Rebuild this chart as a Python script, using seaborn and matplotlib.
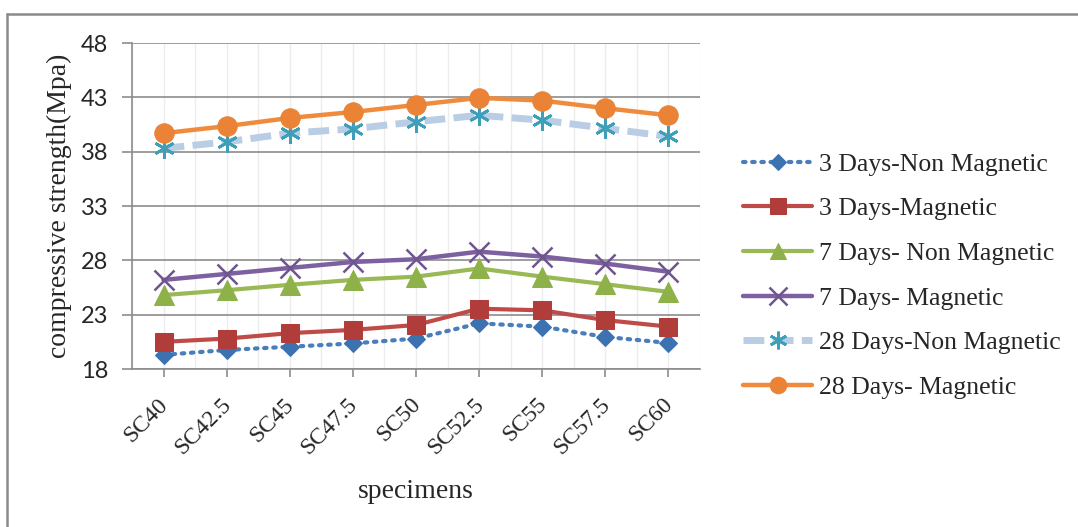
import matplotlib
matplotlib.use("Agg")
import matplotlib.pyplot as plt
import matplotlib.transforms as mtransforms
import seaborn as sns
from matplotlib.lines import Line2D
from matplotlib.ticker import MultipleLocator

specimens = ["SC40", "SC42.5", "SC45", "SC47.5", "SC50", "SC52.5", "SC55", "SC57.5", "SC60"]
d3_non_magnetic = [19.3, 19.75, 20.05, 20.35, 20.8, 22.2, 21.9, 20.95, 20.4]
d3_magnetic = [20.5, 20.8, 21.3, 21.6, 22.05, 23.55, 23.4, 22.5, 21.9]
d7_non_magnetic = [24.8, 25.25, 25.75, 26.2, 26.5, 27.25, 26.5, 25.8, 25.1]
d7_magnetic = [26.2, 26.75, 27.3, 27.85, 28.1, 28.8, 28.35, 27.7, 26.95]
d28_non_magnetic = [38.3, 38.9, 39.7, 40.1, 40.75, 41.35, 40.9, 40.15, 39.4]
d28_magnetic = [39.7, 40.35, 41.1, 41.65, 42.3, 42.95, 42.7, 42.0, 41.35]
series_names = ["3 Days-Non Magnetic", "3 Days-Magnetic", "7 Days- Non Magnetic",
                "7 Days- Magnetic", "28 Days-Non Magnetic", "28 Days- Magnetic"]
y_ticks = [18, 23, 28, 33, 38, 43, 48]

sns.set_style("white")
plt.rcParams["font.family"] = ["Liberation Serif", "DejaVu Serif"]

fig = plt.figure(figsize=(10.78, 5.27), dpi=100)
ax = fig.add_axes([0.1224, 0.2998, 0.527, 0.6186])

styles = [
    dict(color="#4a7ebb", linestyle=(0, (0.6, 1.6)), dash_capstyle="round", linewidth=3,
         marker="D", markersize=9, markerfacecolor="#3d72b0", markeredgecolor="#3d72b0"),
    dict(color="#be4b48", linestyle="-", linewidth=3,
         marker="s", markersize=13, markerfacecolor="#b03d3a", markeredgecolor="#b03d3a"),
    dict(color="#98b954", linestyle="-", linewidth=3,
         marker="^", markersize=14, markerfacecolor="#8eb14a", markeredgecolor="#8eb14a"),
    dict(color="#7d60a0", linestyle="-", linewidth=3.2,
         marker="x", markersize=15, markeredgewidth=1.8, markeredgecolor="#6f5590"),
    dict(color="#b9cde5", linestyle=(0, (3, 1.2)), linewidth=5,
         marker=(6, 2, 0), markersize=15, markeredgewidth=2, markeredgecolor="#3e9fb8"),
    dict(color="#f08a3c", linestyle="-", linewidth=3.2,
         marker="o", markersize=14, markerfacecolor="#ea8335", markeredgecolor="#ea8335"),
]
all_series = [d3_non_magnetic, d3_magnetic, d7_non_magnetic, d7_magnetic, d28_non_magnetic, d28_magnetic]

for name, vals, st in zip(series_names, all_series, styles):
    sns.lineplot(x=specimens, y=vals, ax=ax, sort=False, label=name, zorder=3, **st)

ax.set_ylim(18, 48)
ax.set_xlim(-0.5, len(specimens) - 0.5)
ax.set_yticks(y_ticks)
ax.set_yticklabels([str(v) for v in y_ticks], fontfamily="Lato", fontsize=17)
ax.set_xticks(range(len(specimens)))
ax.set_xticklabels(specimens, rotation=45, ha="right", rotation_mode="anchor", fontsize=17)
ax.xaxis.set_minor_locator(MultipleLocator(0.5))

ax.grid(axis="y", which="major", color="#8c8c8c", linewidth=1.2)
ax.grid(axis="x", which="minor", color="#ececec", linewidth=1)
ax.grid(axis="x", which="major", color="#ececec", linewidth=1)
ax.set_axisbelow(True)

for side in ["top", "right"]:
    ax.spines[side].set_visible(False)
for side in ["left", "bottom"]:
    ax.spines[side].set_color("#8c8c8c")
    ax.spines[side].set_linewidth(1.2)

ax.tick_params(axis="y", which="major", direction="out", length=7, width=1.2, color="#8c8c8c",
               left=True, pad=10)
ax.tick_params(axis="x", which="major", direction="out", length=6, width=1.2, color="#8c8c8c",
               bottom=True, pad=12)
ax.tick_params(axis="x", which="minor", length=0)

offset = mtransforms.ScaledTranslation(-6 / 100, 0, fig.dpi_scale_trans)
for tick in ax.xaxis.get_major_ticks():
    tick.label1.set_transform(tick.label1.get_transform() + offset)

ax.set_xlabel("specimens", fontsize=20, labelpad=15)
ax.set_ylabel("compressive strength(Mpa)", fontsize=20, labelpad=6)

leg = ax.legend(loc="center left", bbox_to_anchor=(1.035, 0.286), frameon=False, fontsize=18.5,
                handlelength=2.7, labelspacing=0.84, handletextpad=0.25, markerscale=0.85)

# figure border (top & left only)
fig.add_artist(Line2D([0.0065, 1.0], [0.9734, 0.9734], transform=fig.transFigure,
                      color="#8a8a8a", linewidth=1.8))
fig.add_artist(Line2D([0.0065, 0.0065], [0.0, 0.9734], transform=fig.transFigure,
                      color="#8a8a8a", linewidth=1.8))

fig.savefig("out.png", dpi=100, facecolor="white")
